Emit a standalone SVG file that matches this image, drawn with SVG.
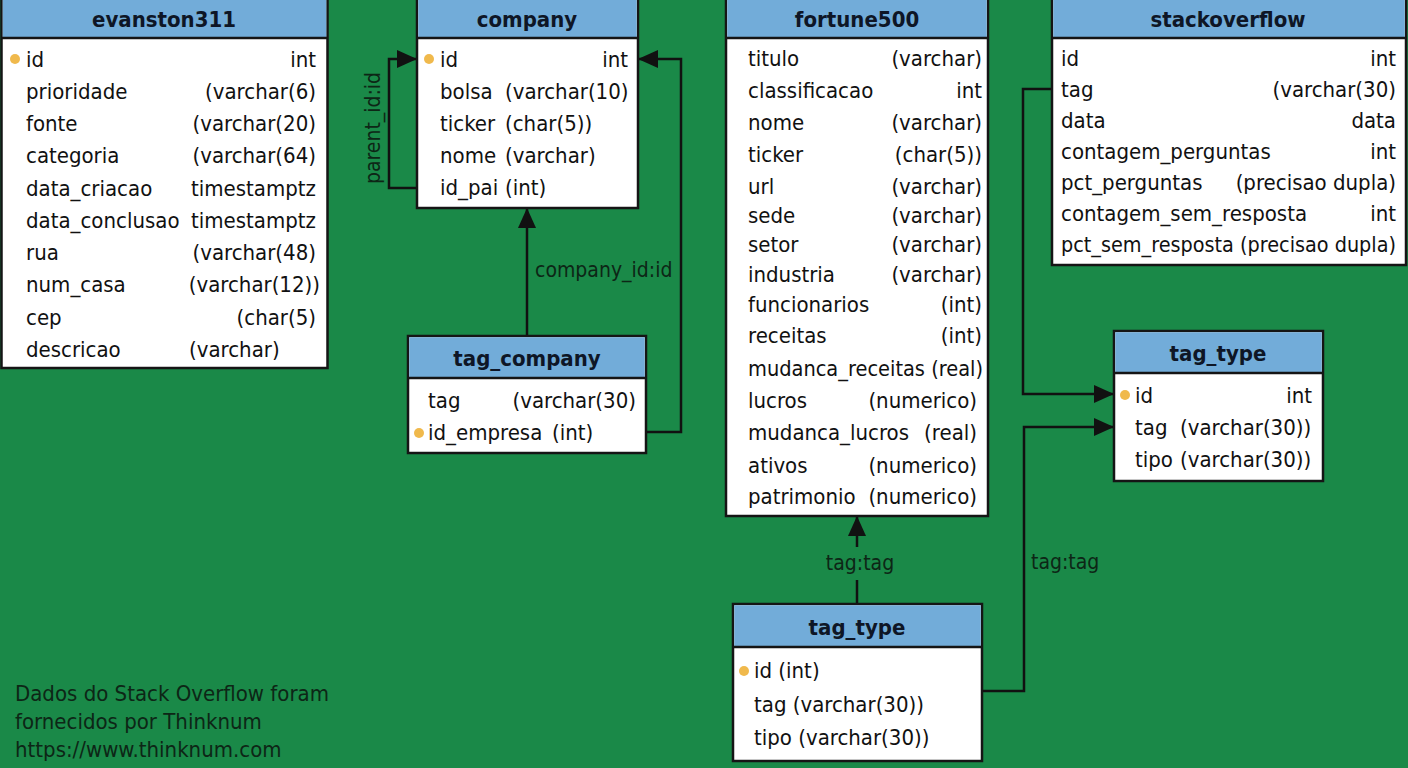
<svg xmlns="http://www.w3.org/2000/svg" width="1408" height="768" viewBox="0 0 1408 768">
<defs>
<style>
.bg{fill:#1a8948}
.box{fill:#ffffff;stroke:#151515;stroke-width:2.5}
.hdr{fill:#72acd9}
.sep{stroke:#151515;stroke-width:2.5}
.t{font-family:"DejaVu Sans Condensed","DejaVu Sans","Liberation Sans",sans-serif;font-stretch:condensed;font-size:22px;fill:#111}
.e{text-anchor:end}
.ttl{font-family:"DejaVu Sans Condensed","DejaVu Sans","Liberation Sans",sans-serif;font-stretch:condensed;font-size:22px;font-weight:bold;fill:#0e1626;text-anchor:middle}
.pk{fill:#f0b94c}
.con{fill:none;stroke:#111;stroke-width:2.5}
.lbl{font-family:"DejaVu Sans Condensed","DejaVu Sans","Liberation Sans",sans-serif;font-stretch:condensed;font-size:21px;fill:#0d2616}
.note{font-family:"DejaVu Sans Condensed","DejaVu Sans","Liberation Sans",sans-serif;font-stretch:condensed;font-size:22px;fill:#0d2616}
</style>
<marker id="arr" markerWidth="20" markerHeight="18" refX="20" refY="9" orient="auto" markerUnits="userSpaceOnUse">
<path d="M0,0 L20,9 L0,18 z" fill="#111"/>
</marker>
</defs>
<rect class="bg" x="0" y="0" width="1408" height="768"/>

<g id="connectors">
<path class="con" d="M417,188 H389 V59 H417" marker-end="url(#arr)"/>
<text class="lbl" transform="translate(380,128) rotate(-90)" text-anchor="middle">parent_id:id</text>
<path class="con" d="M646,432 H681 V59 H638" marker-end="url(#arr)"/>
<path class="con" d="M527,336 V208" marker-end="url(#arr)"/>
<text class="lbl" x="535" y="277">company_id:id</text>
<path class="con" d="M1052,89 H1023 V394 H1114" marker-end="url(#arr)"/>
<path class="con" d="M982,691 H1024 V427 H1114" marker-end="url(#arr)"/>
<text class="lbl" x="1031" y="569">tag:tag</text>
<path class="con" d="M857,604 V580"/>
<path class="con" d="M857,547 V516" marker-end="url(#arr)"/>
<text class="lbl" x="860" y="570" text-anchor="middle">tag:tag</text>
</g>

<g id="evanston311">
<rect class="box" x="1.5" y="-3" width="326" height="371"/>
<rect class="hdr" x="2.75" y="-2" width="323.5" height="40"/>
<line class="sep" x1="1.5" y1="38" x2="327.5" y2="38"/>
<text class="ttl" x="164" y="27">evanston311</text>
<circle class="pk" cx="15" cy="59" r="5"/>
<text class="t" x="26" y="67">id</text><text class="t e" x="316" y="67">int</text>
<text class="t" x="26" y="99">prioridade</text><text class="t e" x="316" y="99">(varchar(6)</text>
<text class="t" x="26" y="131">fonte</text><text class="t e" x="316" y="131">(varchar(20)</text>
<text class="t" x="26" y="163">categoria</text><text class="t e" x="316" y="163">(varchar(64)</text>
<text class="t" x="26" y="196">data_criacao</text><text class="t e" x="316" y="196">timestamptz</text>
<text class="t" x="26" y="228">data_conclusao</text><text class="t e" x="316" y="228">timestamptz</text>
<text class="t" x="26" y="260">rua</text><text class="t e" x="316" y="260">(varchar(48)</text>
<text class="t" x="26" y="292">num_casa</text><text class="t e" x="320" y="292">(varchar(12))</text>
<text class="t" x="26" y="325">cep</text><text class="t e" x="316" y="325">(char(5)</text>
<text class="t" x="26" y="357">descricao</text><text class="t" x="189" y="357">(varchar)</text>
</g>

<g id="company">
<rect class="box" x="417" y="-3" width="221" height="211"/>
<rect class="hdr" x="418.25" y="-2" width="218.5" height="40"/>
<line class="sep" x1="417" y1="38" x2="638" y2="38"/>
<text class="ttl" x="527" y="27">company</text>
<circle class="pk" cx="429" cy="59" r="5"/>
<text class="t" x="440" y="67">id</text><text class="t e" x="628" y="67">int</text>
<text class="t" x="440" y="99">bolsa</text><text class="t" x="505" y="99">(varchar(10)</text>
<text class="t" x="440" y="131">ticker</text><text class="t" x="505" y="131">(char(5))</text>
<text class="t" x="440" y="163">nome</text><text class="t" x="505" y="163">(varchar)</text>
<text class="t" x="440" y="195">id_pai</text><text class="t" x="505" y="195">(int)</text>
</g>

<g id="tag_company">
<rect class="box" x="408" y="336" width="238" height="117"/>
<rect class="hdr" x="409.25" y="337.25" width="235.5" height="40.75"/>
<line class="sep" x1="408" y1="378" x2="646" y2="378"/>
<text class="ttl" x="527" y="366">tag_company</text>
<text class="t" x="428" y="408">tag</text><text class="t e" x="636" y="408">(varchar(30)</text>
<circle class="pk" cx="419" cy="433" r="5"/>
<text class="t" x="428" y="440">id_empresa</text><text class="t" x="552" y="440">(int)</text>
</g>

<g id="fortune500">
<rect class="box" x="726" y="-3" width="262" height="519"/>
<rect class="hdr" x="727.25" y="-2" width="259.5" height="40"/>
<line class="sep" x1="726" y1="38" x2="988" y2="38"/>
<text class="ttl" x="857" y="27">fortune500</text>
<text class="t" x="748" y="66">titulo</text><text class="t e" x="982" y="66">(varchar)</text>
<text class="t" x="748" y="98">classificacao</text><text class="t e" x="982" y="98">int</text>
<text class="t" x="748" y="130">nome</text><text class="t e" x="982" y="130">(varchar)</text>
<text class="t" x="748" y="162">ticker</text><text class="t e" x="982" y="162">(char(5))</text>
<text class="t" x="748" y="194">url</text><text class="t e" x="982" y="194">(varchar)</text>
<text class="t" x="748" y="223">sede</text><text class="t e" x="982" y="223">(varchar)</text>
<text class="t" x="748" y="252">setor</text><text class="t e" x="982" y="252">(varchar)</text>
<text class="t" x="748" y="282">industria</text><text class="t e" x="982" y="282">(varchar)</text>
<text class="t" x="748" y="312">funcionarios</text><text class="t e" x="982" y="312">(int)</text>
<text class="t" x="748" y="343">receitas</text><text class="t e" x="982" y="343">(int)</text>
<text class="t" x="748" y="376" textLength="235" lengthAdjust="spacingAndGlyphs">mudanca_receitas (real)</text>
<text class="t" x="748" y="408">lucros</text><text class="t e" x="977" y="408">(numerico)</text>
<text class="t" x="748" y="440">mudanca_lucros</text><text class="t e" x="977" y="440">(real)</text>
<text class="t" x="748" y="473">ativos</text><text class="t e" x="977" y="473">(numerico)</text>
<text class="t" x="748" y="504">patrimonio</text><text class="t e" x="977" y="504">(numerico)</text>
</g>

<g id="stackoverflow">
<rect class="box" x="1052" y="-3" width="354" height="268"/>
<rect class="hdr" x="1053.25" y="-2" width="351.5" height="40"/>
<line class="sep" x1="1052" y1="38" x2="1406" y2="38"/>
<text class="ttl" x="1228" y="27">stackoverflow</text>
<text class="t" x="1061" y="66">id</text><text class="t e" x="1396" y="66">int</text>
<text class="t" x="1061" y="97">tag</text><text class="t e" x="1396" y="97">(varchar(30)</text>
<text class="t" x="1061" y="128">data</text><text class="t e" x="1396" y="128">data</text>
<text class="t" x="1061" y="159">contagem_perguntas</text><text class="t e" x="1396" y="159">int</text>
<text class="t" x="1061" y="190">pct_perguntas</text><text class="t e" x="1396" y="190">(precisao dupla)</text>
<text class="t" x="1061" y="221">contagem_sem_resposta</text><text class="t e" x="1396" y="221">int</text>
<text class="t" x="1061" y="252" textLength="335" lengthAdjust="spacingAndGlyphs">pct_sem_resposta (precisao dupla)</text>
</g>

<g id="tag_type_right">
<rect class="box" x="1114" y="331" width="209" height="150"/>
<rect class="hdr" x="1115.25" y="332.25" width="206.5" height="40.75"/>
<line class="sep" x1="1114" y1="373" x2="1323" y2="373"/>
<text class="ttl" x="1218" y="361">tag_type</text>
<circle class="pk" cx="1125" cy="395" r="5"/>
<text class="t" x="1135" y="403">id</text><text class="t e" x="1312" y="403">int</text>
<text class="t" x="1135" y="435">tag</text><text class="t" x="1180" y="435">(varchar(30))</text>
<text class="t" x="1135" y="467">tipo</text><text class="t" x="1180" y="467">(varchar(30))</text>
</g>

<g id="tag_type_bottom">
<rect class="box" x="733" y="604" width="249" height="157"/>
<rect class="hdr" x="734.25" y="605.25" width="246.5" height="41.75"/>
<line class="sep" x1="733" y1="647" x2="982" y2="647"/>
<text class="ttl" x="857" y="635">tag_type</text>
<circle class="pk" cx="744" cy="671" r="5"/>
<text class="t" x="754" y="678">id (int)</text>
<text class="t" x="754" y="712">tag (varchar(30))</text>
<text class="t" x="754" y="745">tipo (varchar(30))</text>
</g>

<g id="note">
<text class="note" x="15" y="701">Dados do Stack Overflow foram</text>
<text class="note" x="15" y="729">fornecidos por Thinknum</text>
<text class="note" x="15" y="757">https://www.thinknum.com</text>
</g>
</svg>
